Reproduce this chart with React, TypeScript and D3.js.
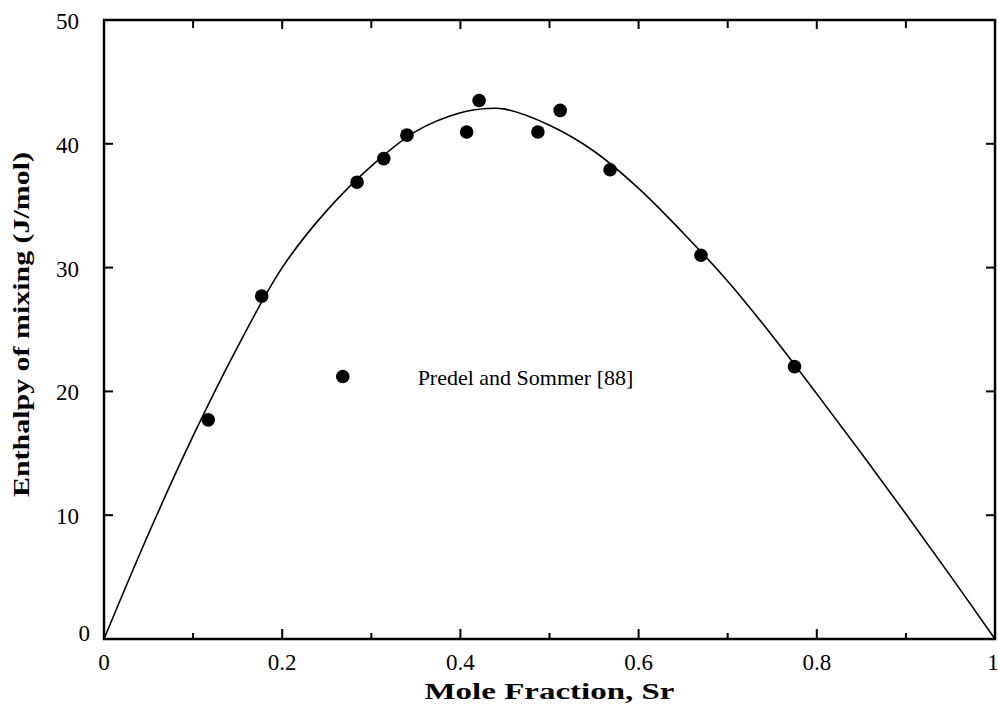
import React, { useEffect, useRef } from 'react'
import * as d3 from 'd3'

// fitted curve
const curveX = [0, 0.05, 0.1, 0.15, 0.2, 0.25, 0.3, 0.35, 0.4, 0.43, 0.45, 0.5, 0.55, 0.6, 0.65, 0.7, 0.75, 0.8, 0.85, 0.9, 0.95, 1]
const curveY = [0, 8.5, 16.4, 23.6, 30.0, 34.6, 38.2, 41.0, 42.5, 42.85, 42.8, 41.5, 39.4, 36.4, 32.8, 28.9, 24.5, 19.8, 15.0, 10.1, 5.1, 0]

// Predel and Sommer [88]
const pointX = [0.117, 0.177, 0.284, 0.314, 0.340, 0.407, 0.421, 0.487, 0.512, 0.568, 0.67, 0.775]
const pointY = [17.7, 27.7, 36.9, 38.8, 40.7, 40.95, 43.5, 40.95, 42.7, 37.9, 31.0, 22.0]

const xTicks = [0, 0.2, 0.4, 0.6, 0.8, 1]
const xMinor = [0.1, 0.3, 0.5, 0.7, 0.9]
const yTicks = [0, 10, 20, 30, 40, 50]

const legendLabel = 'Predel and Sommer [88]'
const xTitle = 'Mole Fraction, Sr'
const yTitle = 'Enthalpy of mixing (J/mol)'

const W = 998
const H = 705

export default function App() {
  const svgRef = useRef<SVGSVGElement>(null)

  useEffect(() => {
    if (!svgRef.current) return
    const svg = d3.select(svgRef.current)
    svg.selectAll('*').remove()

    const left = 104, right = 995, top = 20, bottom = 639
    const x = d3.scaleLinear().domain([0, 1]).range([left, right])
    const y = d3.scaleLinear().domain([0, 50]).range([bottom, top])
    const font = '"Liberation Serif", "Times New Roman", serif'

    // ticks (inward, all four sides)
    const ticks = svg.append('g').attr('stroke', '#000').attr('stroke-width', 2)
    xTicks.forEach(t => {
      ticks.append('line').attr('x1', x(t)).attr('x2', x(t)).attr('y1', bottom).attr('y2', bottom - 10)
      ticks.append('line').attr('x1', x(t)).attr('x2', x(t)).attr('y1', top).attr('y2', top + 9)
    })
    xMinor.forEach(t => {
      ticks.append('line').attr('x1', x(t)).attr('x2', x(t)).attr('y1', bottom).attr('y2', bottom - 6)
      ticks.append('line').attr('x1', x(t)).attr('x2', x(t)).attr('y1', top).attr('y2', top + 8)
    })
    yTicks.forEach(t => {
      ticks.append('line').attr('x1', left).attr('x2', left + 9).attr('y1', y(t)).attr('y2', y(t))
      ticks.append('line').attr('x1', right).attr('x2', right - 9).attr('y1', y(t)).attr('y2', y(t))
    })

    // frame
    svg.append('rect')
      .attr('x', left).attr('y', top)
      .attr('width', right - left).attr('height', bottom - top)
      .attr('fill', 'none').attr('stroke', '#000').attr('stroke-width', 2.5)

    // tick labels
    svg.append('g').selectAll('text')
      .data(xTicks)
      .enter().append('text')
      .attr('x', d => (d === 1 ? x(d) - 2 : x(d)))
      .attr('y', bottom + 31)
      .attr('text-anchor', 'middle')
      .attr('font-family', font)
      .attr('font-size', 23)
      .text(d => d3.format('~g')(d))

    svg.append('g').selectAll('text')
      .data(yTicks)
      .enter().append('text')
      .attr('x', d => (d === 0 ? left - 14 : left - 25))
      .attr('y', d => (d === 0 ? y(d) + 2 : y(d) + 9))
      .attr('text-anchor', 'end')
      .attr('font-family', font)
      .attr('font-size', 23)
      .text(d => d)

    // axis titles
    svg.append('text')
      .attr('x', (left + right) / 2)
      .attr('y', bottom + 60)
      .attr('text-anchor', 'middle')
      .attr('font-family', font)
      .attr('font-weight', 'bold')
      .attr('font-size', 24)
      .attr('textLength', 250)
      .attr('lengthAdjust', 'spacingAndGlyphs')
      .text(xTitle)

    svg.append('text')
      .attr('transform', `translate(29,${(top + bottom) / 2 - 5}) rotate(-90)`)
      .attr('text-anchor', 'middle')
      .attr('font-family', font)
      .attr('font-weight', 'bold')
      .attr('font-size', 24)
      .attr('textLength', 345)
      .attr('lengthAdjust', 'spacingAndGlyphs')
      .text(yTitle)

    // curve
    const line = d3.line<number>()
      .x((_, i) => x(curveX[i]))
      .y(d => y(d))
      .curve(d3.curveCatmullRom)

    svg.append('path')
      .datum(curveY)
      .attr('fill', 'none')
      .attr('stroke', '#000')
      .attr('stroke-width', 1.6)
      .attr('d', line)

    // points
    svg.append('g').selectAll('circle')
      .data(pointY)
      .enter().append('circle')
      .attr('cx', (_, i) => x(pointX[i]))
      .attr('cy', d => y(d))
      .attr('r', 6.8)
      .attr('fill', '#000')

    // legend
    svg.append('circle')
      .attr('cx', x(0.268)).attr('cy', y(21.2))
      .attr('r', 6.8).attr('fill', '#000')
    svg.append('text')
      .attr('x', x(0.352))
      .attr('y', y(21.2) + 8)
      .attr('font-family', font)
      .attr('font-size', 22)
      .text(legendLabel)
  }, [])

  return (
    <svg
      ref={svgRef}
      width={W}
      height={H}
      style={{ position: 'absolute', left: 0, top: 0, background: '#fff', fontFamily: '"Liberation Serif", serif' }}
    />
  )
}
